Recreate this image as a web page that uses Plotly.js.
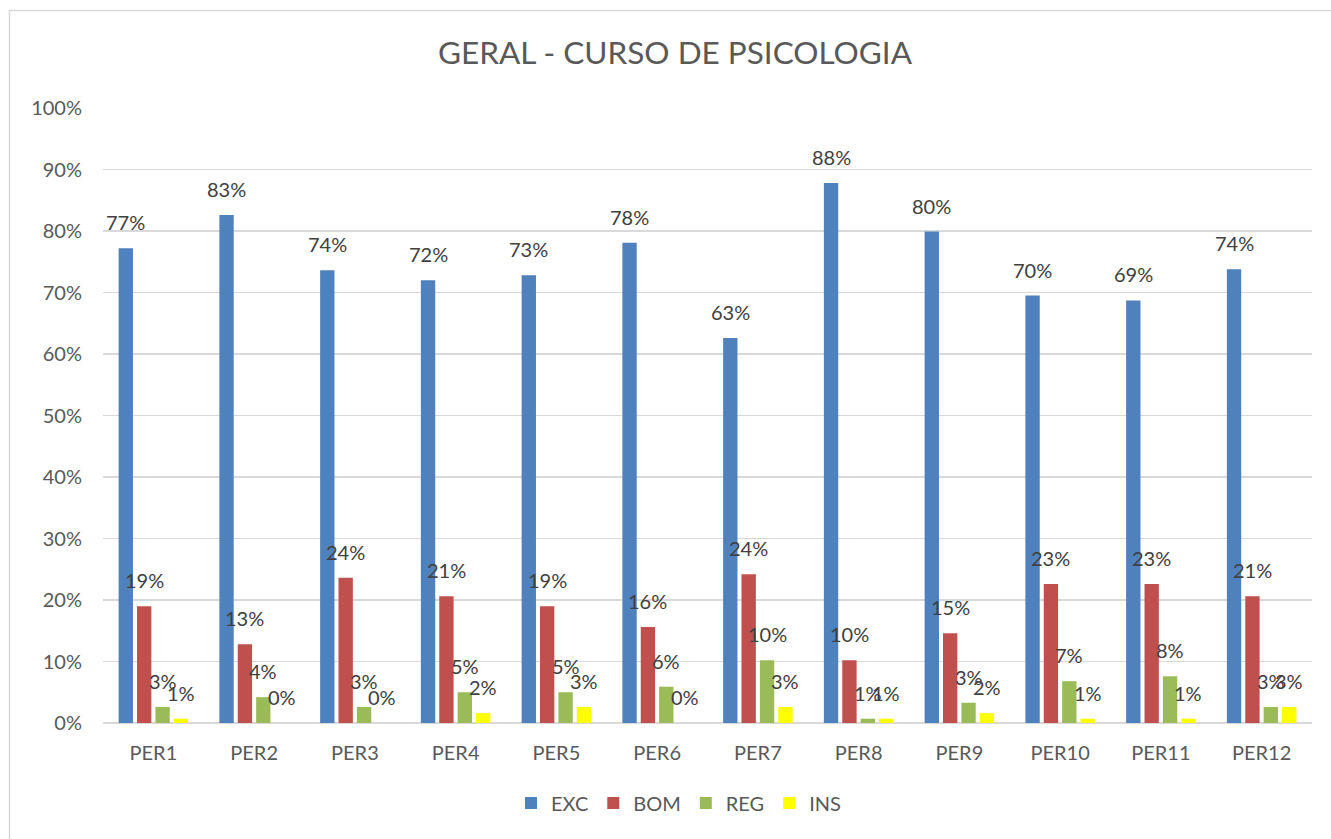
<!DOCTYPE html>
<html>
<head>
<meta charset="utf-8">
<script src="https://cdn.plot.ly/plotly-3.0.1.min.js"></script>
<style>html,body{margin:0;padding:0;background:#fff;}#chart{width:1331px;height:839px;}</style>
</head>
<body>
<div id="chart"></div>
<script>
const categories = ['PER1','PER2','PER3','PER4','PER5','PER6','PER7','PER8','PER9','PER10','PER11','PER12'];
const seriesNames = ['EXC','BOM','REG','INS'];
const exc = [77.2, 82.6, 73.6, 72.0, 72.8, 78.1, 62.6, 87.8, 79.9, 69.5, 68.7, 73.8];
const bom = [19.0, 12.8, 23.6, 20.6, 19.0, 15.6, 24.2, 10.2, 14.6, 22.6, 22.6, 20.6];
const reg = [2.6, 4.2, 2.6, 5.0, 5.0, 5.9, 10.2, 0.7, 3.3, 6.8, 7.6, 2.6];
const ins = [0.7, 0, 0, 1.6, 2.6, 0, 2.6, 0.7, 1.6, 0.7, 0.7, 2.6];
const yTicks = [0,10,20,30,40,50,60,70,80,90,100];

const seriesValues = [exc, bom, reg, ins];
const colors = ['#4F81BD','#C0504D','#9BBB59','#FFFF00'];
const FONT = 'Lato, "Open Sans", sans-serif';
const bargap = 0.27;
const slot = (1 - bargap) / seriesValues.length;

const traces = seriesValues.map((vals, k) => ({
  type: 'bar',
  name: seriesNames[k],
  x: categories,
  y: vals.map(v => v / 100),
  marker: {color: colors[k]},
  hoverinfo: 'skip'
}));

const annotations = [];
seriesValues.forEach((vals, k) => {
  vals.forEach((v, i) => {
    annotations.push({
      x: i + (k - (seriesValues.length - 1) / 2) * slot,
      y: v / 100,
      xref: 'x', yref: 'y',
      text: Math.round(v) + '%',
      showarrow: false,
      yanchor: 'middle',
      yshift: 26,
      font: {family: FONT, size: 20, color: '#404040'}
    });
  });
});

const layout = {
  width: 1331, height: 839,
  margin: {l: 103, r: 19, t: 108, b: 116},
  paper_bgcolor: '#ffffff', plot_bgcolor: '#ffffff',
  title: {
    text: 'GERAL - CURSO DE PSICOLOGIA',
    x: 675/1331, xref: 'container', xanchor: 'center',
    y: 1 - 53/839, yref: 'container', yanchor: 'middle',
    font: {family: FONT, size: 31.5, color: '#595959'}
  },
  barmode: 'group',
  bargap: bargap,
  bargroupgap: 0.22,
  showlegend: true,
  legend: {
    orientation: 'h', x: 0.476, xanchor: 'center', y: -0.13, yanchor: 'middle',
    font: {family: FONT, size: 20, color: '#595959'},
    traceorder: 'normal'
  },
  xaxis: {
    type: 'category',
    showgrid: false, zeroline: false, showline: false, ticks: '',
    tickfont: {family: FONT, size: 20, color: '#595959'},
    ticklabelstandoff: 16,
    fixedrange: true
  },
  yaxis: {
    range: [0, 1],
    tickvals: yTicks.map(t => t / 100),
    ticktext: yTicks.map(t => t + '%'),
    showgrid: true, gridcolor: '#d9d9d9', gridwidth: 1.5,
    zeroline: true, zerolinecolor: '#d9d9d9', zerolinewidth: 2,
    showline: false, ticks: '',
    tickfont: {family: FONT, size: 20, color: '#595959'},
    ticklabelstandoff: 20,
    fixedrange: true
  },
  annotations: annotations,
  shapes: [{
    type: 'rect', xref: 'paper', yref: 'paper',
    x0: (9.5 - 103) / 1209, x1: 1.2,
    y0: -0.3, y1: (723 - 10.5) / 615,
    line: {color: '#d9d9d9', width: 1.5},
    fillcolor: 'rgba(0,0,0,0)', layer: 'below'
  }]
};

Plotly.newPlot('chart', traces, layout, {displayModeBar: false, staticPlot: true});
</script>
</body>
</html>
